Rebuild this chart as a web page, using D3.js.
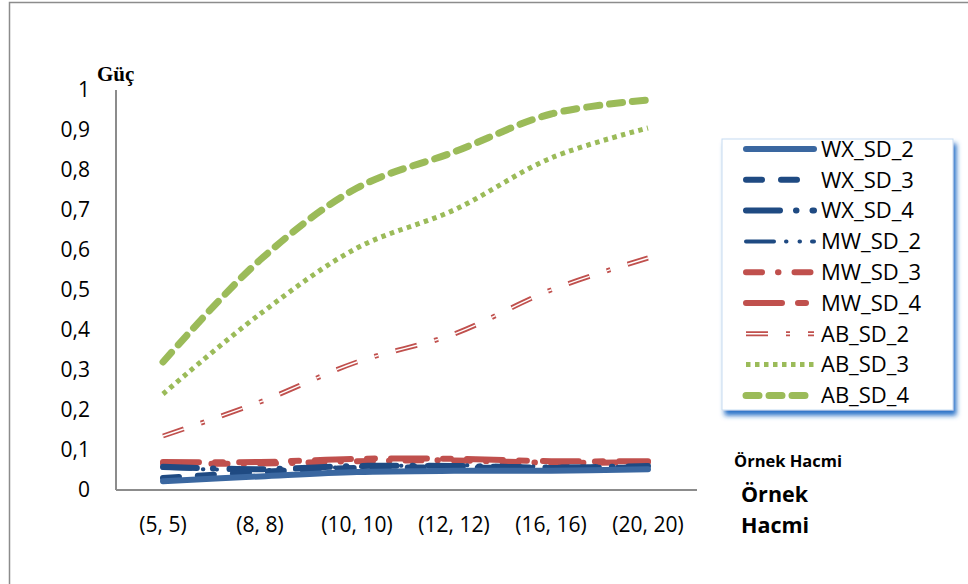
<!DOCTYPE html>
<html>
<head>
<meta charset="utf-8">
<title>Güç</title>
<script src="https://cdn.jsdelivr.net/npm/d3@7"></script>
<style>
  body { margin: 0; background: #fff; }
  text { font-family: "Open Sans", "Noto Sans", sans-serif; }
</style>
</head>
<body>
<script>
const width = 968, height = 584;

// örnek hacimleri
const categories = ["(5, 5)", "(8, 8)", "(10, 10)", "(12, 12)", "(16, 16)", "(20, 20)"];
const yTicks = [0, 0.1, 0.2, 0.3, 0.4, 0.5, 0.6, 0.7, 0.8, 0.9, 1];

const wxSd2 = [0.022, 0.034, 0.045, 0.048, 0.048, 0.052];
const wxSd3 = [0.030, 0.045, 0.055, 0.056, 0.055, 0.056];
const wxSd4 = [0.058, 0.052, 0.060, 0.060, 0.056, 0.060];
const mwSd2 = [0.055, 0.050, 0.058, 0.062, 0.058, 0.058];
const mwSd3 = [0.066, 0.066, 0.072, 0.074, 0.068, 0.070];
const mwSd4 = [0.070, 0.070, 0.078, 0.078, 0.072, 0.072];
const abSd2 = [0.135, 0.220, 0.320, 0.390, 0.500, 0.580];
const abSd3 = [0.240, 0.440, 0.605, 0.700, 0.830, 0.905];
const abSd4 = [0.320, 0.575, 0.755, 0.845, 0.940, 0.975];

const blue = "#3a67a0", dblue = "#1f4a82", red = "#c0504d", green = "#9bbb59";

const series = [
  { name: "WX_SD_2", values: wxSd2, color: blue,  w: 6, dash: null, cap: "round" },
  { name: "WX_SD_3", values: wxSd3, color: dblue, w: 6, dash: "16,19", cap: "round" },
  { name: "WX_SD_4", values: wxSd4, color: dblue, w: 6, dash: "34,16,0.5,16", cap: "round" },
  { name: "MW_SD_2", values: mwSd2, color: dblue, w: 4, dash: "28,12,0.5,13,0.5,12", cap: "round" },
  { name: "MW_SD_3", values: mwSd3, color: red,   w: 6, dash: "16,16,0.5,16", cap: "round" },
  { name: "MW_SD_4", values: mwSd4, color: red,   w: 6, dash: "36,16,8,16", cap: "round" },
  { name: "AB_SD_2", values: abSd2, color: red,   w: 5, dash: "22,18,4,18", cap: "butt", double: true },
  { name: "AB_SD_3", values: abSd3, color: green, w: 5, dash: "4.5,4.5", cap: "butt" },
  { name: "AB_SD_4", values: abSd4, color: green, w: 7, dash: "13,10", cap: "round" }
];

const svg = d3.select("body").append("svg")
  .attr("width", width).attr("height", height);

svg.append("rect").attr("width", width).attr("height", height).attr("fill", "#fff");

// dış çerçeve
svg.append("rect")
  .attr("x", 9.5).attr("y", 2.5).attr("width", 980).attr("height", 600)
  .attr("fill", "none").attr("stroke", "#8c8c8c").attr("stroke-width", 1.5);

const x = d3.scalePoint().domain(categories).range([163, 648]);
const y = d3.scaleLinear().domain([0, 1]).range([490, 90]);

// eksenler
svg.append("line").attr("x1", 116).attr("x2", 116).attr("y1", y(1)).attr("y2", y(0))
  .attr("stroke", "#8c8c8c").attr("stroke-width", 2);
svg.append("line").attr("x1", 116).attr("x2", 697).attr("y1", y(0)).attr("y2", y(0))
  .attr("stroke", "#8c8c8c").attr("stroke-width", 2);

const fmt = d => d3.format(".1f")(d).replace(".", ",").replace(/,0$/, "");

svg.append("g").selectAll("text").data(yTicks).join("text")
  .attr("x", 90).attr("y", d => y(d))
  .attr("dy", "0.35em").attr("text-anchor", "end")
  .attr("font-size", 21).attr("fill", "#000")
  .text(fmt);

svg.append("g").selectAll("text").data(categories).join("text")
  .attr("x", d => x(d)).attr("y", 525)
  .attr("dy", "0.35em").attr("text-anchor", "middle")
  .attr("font-size", 21).attr("fill", "#000")
  .text(d => d);

svg.append("text").attr("x", 97).attr("y", 81)
  .style("font-family", "'Liberation Serif', 'DejaVu Serif', serif")
  .attr("font-weight", "bold").attr("font-size", 21).text("Güç");

svg.append("text").attr("x", 734).attr("y", 467)
  .attr("font-weight", "bold").attr("font-size", 16.5).text("Örnek Hacmi");
svg.append("text").attr("x", 741).attr("y", 502)
  .attr("font-weight", "bold").attr("font-size", 21.5).text("Örnek");
svg.append("text").attr("x", 741).attr("y", 533)
  .attr("font-weight", "bold").attr("font-size", 21.5).text("Hacmi");

// çizgiler
const line = d3.line()
  .x((d, i) => x(categories[i]))
  .y(d => y(d))
  .curve(d3.curveCatmullRom.alpha(0.5));

function styled(sel, s) {
  sel.attr("fill", "none")
    .attr("stroke", s.color)
    .attr("stroke-width", s.w)
    .attr("stroke-linecap", s.cap)
    .attr("stroke-linejoin", "round")
    .attr("stroke-dasharray", s.dash);
}

function drawSeries(g, s, dFn) {
  g.append("path").attr("d", dFn).call(styled, s);
  if (s.double) {
    g.append("path").attr("d", dFn).call(styled, s)
      .attr("stroke", "#fff").attr("stroke-width", 1.4);
  }
}

const plot = svg.append("g");
// çizim sırası: arkadan öne
[8, 7, 6, 5, 4, 3, 2, 1, 0].forEach(i => {
  const s = series[i];
  drawSeries(plot, s, line(s.values));
});

// lejant
const defs = svg.append("defs");
const shadow = defs.append("filter").attr("id", "shadow")
  .attr("x", "-10%").attr("y", "-10%").attr("width", "130%").attr("height", "130%");
shadow.append("feDropShadow")
  .attr("dx", 3).attr("dy", 5).attr("stdDeviation", 2.5)
  .attr("flood-color", "#1a6bc4").attr("flood-opacity", 0.95);

const legend = svg.append("g");
legend.append("rect")
  .attr("x", 722).attr("y", 139).attr("width", 231).attr("height", 271)
  .attr("fill", "#fff").attr("stroke", "#c5dcf2").attr("stroke-width", 1)
  .attr("filter", "url(#shadow)");

const ly = i => 149 + i * 30.8;
const row = legend.selectAll("g").data(series).join("g")
  .attr("transform", (d, i) => `translate(0,${ly(i)})`);

row.each(function (s) {
  const g = d3.select(this);
  drawSeries(g, s, "M746,0L814,0");
});

row.append("text")
  .attr("x", 821).attr("y", 0).attr("dy", "0.35em")
  .attr("font-size", 22).attr("fill", "#000")
  .text(d => d.name);
</script>
</body>
</html>
